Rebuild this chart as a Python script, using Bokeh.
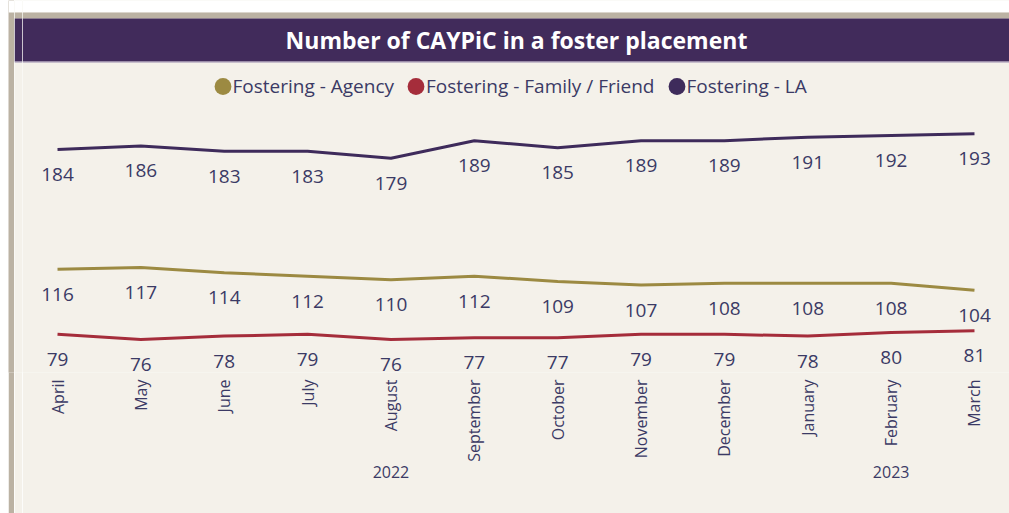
import math
from bokeh.plotting import figure
from bokeh.layouts import row
from bokeh.models import (FactorRange, Range1d, ColumnDataSource, BoxAnnotation,
                          Label, Legend, LegendItem)
from bokeh.embed import file_html
from bokeh.resources import INLINE
from bokeh.core.properties import value

# ---------------- data ----------------
months = ["April", "May", "June", "July", "August", "September", "October",
          "November", "December", "January", "February", "March"]
years = ["2022"] * 9 + ["2023"] * 3
agency = [116, 117, 114, 112, 110, 112, 109, 107, 108, 108, 108, 104]
family = [79, 76, 78, 79, 76, 77, 77, 79, 79, 78, 80, 81]
la = [184, 186, 183, 183, 179, 189, 185, 189, 189, 191, 192, 193]
series_names = ["Fostering - Agency", "Fostering - Family / Friend", "Fostering - LA"]
title_text = "Number of CAYPiC in a foster placement"

# ---------------- style ----------------
colors = ["#9c8a42", "#a52d3b", "#3e2b5b"]
txt = "#3b3a65"
bg = "#f4f1ea"
taupe = "#bbb2a3"
bar = "#412b5b"
FONT = "Open Sans"


def lbox(fig, t, b, c, **kw):
    fig.add_layout(BoxAnnotation(top=t, bottom=b, fill_color=c, fill_alpha=1,
                                 line_color=None, level="underlay", **kw))


def strip(w, color):
    f = figure(width=w, height=513, x_range=Range1d(0, 1), y_range=Range1d(372, 0),
               output_backend="svg", toolbar_location=None, title=None,
               x_axis_location=None, y_axis_location=None, min_border=0)
    f.background_fill_color = color
    f.border_fill_color = color
    f.outline_line_color = None
    f.grid.visible = False
    return f


# ---------- left strips (frame decoration) ----------
s1 = strip(8, "white")
s2 = strip(6, taupe)
lbox(s2, 0, 12, "white")
s3 = strip(8, bg)
lbox(s3, 0, 12, "white")
lbox(s3, 12, 18, taupe)
lbox(s3, 18, 61, bar)
lbox(s3, 61, 62, "#9a8cae")

# ---------- main chart ----------
factors = list(zip(years, months))
x_range = FactorRange(*factors, factor_padding=0, group_padding=0,
                      range_padding=-0.08, range_padding_units="absolute")

p = figure(width=987, height=513, x_range=x_range, y_range=Range1d(57.3, 268.66),
           output_backend="svg", toolbar_location=None, title=None,
           y_axis_location=None, min_border_left=0, min_border_right=0,
           min_border_top=0, min_border_bottom=141)
p.background_fill_color = bg
p.border_fill_color = bg
p.outline_line_color = None
p.xgrid.visible = False
p.ygrid.visible = False
p.extra_y_ranges = {"px": Range1d(372, 0)}

ax = p.xaxis[0]
ax.axis_line_color = None
ax.major_tick_line_color = None
ax.minor_tick_line_color = None
ax.separator_line_color = None
ax.major_label_orientation = math.pi / 2
ax.major_label_standoff = 1
ax.major_label_text_font = FONT
ax.major_label_text_font_size = "16px"
ax.major_label_text_color = txt
ax.group_text_font = FONT
ax.group_text_font_size = "16px"
ax.group_text_color = txt
ax.group_text_font_style = "normal"
ax.group_text_line_height = 2.0

src = ColumnDataSource(dict(x=factors, agency=agency, family=family, la=la,
                            agency_t=[str(v) for v in agency],
                            family_t=[str(v) for v in family],
                            la_t=[str(v) for v in la]))

items = []
for key, name, col in zip(["agency", "family", "la"], series_names, colors):
    p.line(x="x", y=key, source=src, line_color=col, line_width=3)
    p.text(x="x", y=key, text=key + "_t", source=src, text_align="center",
           text_baseline="middle", y_offset=25, text_color=txt,
           text_font=value(FONT), text_font_size="19px")
    dot = p.ellipse(x="x", y=key, source=src, width=0.001, height=0.001,
                    width_units="screen", height_units="screen",
                    fill_color=col, line_color=None)
    items.append(LegendItem(label=name, renderers=[dot]))

legend = Legend(items=items, orientation="horizontal", location=(189.5, 272),
                glyph_width=21, glyph_height=28, label_height=28, label_standoff=0,
                spacing=11, padding=0, margin=0, border_line_alpha=0,
                background_fill_alpha=0, label_text_font=FONT,
                label_text_font_size="19px", label_text_color=txt)
p.add_layout(legend, "center")

lbox(p, 0, 12, "white", y_range_name="px")
lbox(p, 12, 18, taupe, y_range_name="px")
lbox(p, 18, 61, bar, y_range_name="px")
lbox(p, 61, 62, "#9a8cae", y_range_name="px")

p.add_layout(Label(x=494, x_units="screen", y=39, y_range_name="px", text=title_text,
                   text_align="center", text_baseline="middle", text_color="white",
                   text_font=FONT, text_font_style="bold", text_font_size="23px"))

layout = row(s1, s2, s3, p, spacing=0)
open("out.html", "w").write(file_html(layout, INLINE))
